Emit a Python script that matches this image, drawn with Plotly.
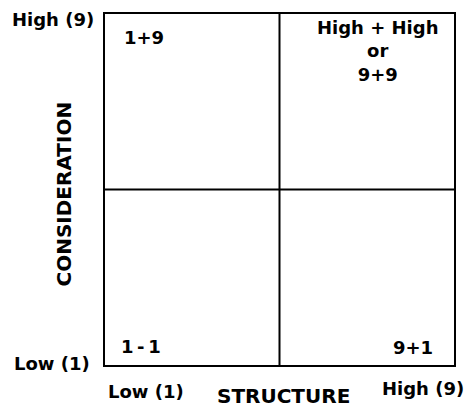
import plotly.graph_objects as go

# ---- data ----
x_range = [1, 9]
y_range = [1, 9]
midpoint = 5
x_tick_vals = [1, 9]
x_tick_text = ["Low (1)", "High (9)"]
y_tick_vals = [1, 9]
y_tick_text = ["Low (1)", "High (9)"]
x_title = "STRUCTURE"
y_title = "CONSIDERATION"
quadrant_text = ["1+9", "High + High<br>or<br>9+9", "1\u2009-\u20091", "9+1"]
quadrant_x = [1, 9, 1, 9]
quadrant_y = [9, 9, 1, 1]

FONT = "DejaVu Sans"
font_lbl = dict(family=FONT, size=18, color="black", weight="bold")
font_ttl = dict(family=FONT, size=20, color="black", weight="bold")

fig = go.Figure()
fig.add_trace(go.Scatter(x=x_range, y=y_range, mode="markers",
                         marker=dict(opacity=0), hoverinfo="skip", showlegend=False))

ann = []
# quadrant labels
q_style = [
    dict(xanchor="left", yanchor="middle", xshift=18, yshift=-23),
    dict(xanchor="center", yanchor="middle", xshift=-77, yshift=-37),
    dict(xanchor="left", yanchor="middle", xshift=15, yshift=19),
    dict(xanchor="right", yanchor="middle", xshift=-20, yshift=18),
]
for t, qx, qy, st in zip(quadrant_text, quadrant_x, quadrant_y, q_style):
    ann.append(dict(x=qx, y=qy, xref="x", yref="y", text=t, showarrow=False,
                    borderpad=0, font=font_lbl, **st))

# y tick labels
y_shift = {1: (-13, 2), 9: (-9, -5)}
for v, t in zip(y_tick_vals, y_tick_text):
    xs, ys = y_shift[v]
    ann.append(dict(x=0, y=v, xref="paper", yref="y", text=t, showarrow=False,
                    xanchor="right", yanchor="middle", xshift=xs, yshift=ys, font=font_lbl))

# x tick labels
x_style = {1: ("left", 1, -26), 9: ("right", 12, -23)}
for v, t in zip(x_tick_vals, x_tick_text):
    xa, xs, ys = x_style[v]
    ann.append(dict(x=v, y=0, xref="x", yref="paper", text=t, showarrow=False,
                    xanchor=xa, yanchor="middle", xshift=xs, yshift=ys, font=font_lbl))

# axis titles
ann.append(dict(x=midpoint, y=0, xref="x", yref="paper", text=x_title, showarrow=False,
                xanchor="center", yanchor="middle", xshift=4, yshift=-31, borderpad=0,
                font=font_ttl))
ann.append(dict(x=0, y=midpoint, xref="paper", yref="y", text=y_title, showarrow=False,
                textangle=-90, xanchor="center", yanchor="middle", xshift=-42, yshift=-5,
                font=font_ttl))

shapes = [
    dict(type="line", xref="x", yref="y", x0=midpoint, x1=midpoint, y0=y_range[0], y1=y_range[1],
         line=dict(color="black", width=2)),
    dict(type="line", xref="x", yref="y", x0=x_range[0], x1=x_range[1], y0=midpoint, y1=midpoint,
         line=dict(color="black", width=2)),
]

axis_common = dict(showgrid=False, zeroline=False, showticklabels=False, ticks="",
                   showline=True, mirror=True, linecolor="black", linewidth=2, fixedrange=True)

fig.update_layout(
    width=467, height=409,
    margin=dict(l=105, r=13, t=14, b=44),
    paper_bgcolor="white", plot_bgcolor="white",
    xaxis=dict(range=x_range, **axis_common),
    yaxis=dict(range=y_range, **axis_common),
    annotations=ann, shapes=shapes,
    showlegend=False,
)

fig.write_html("out.html", config={"displayModeBar": False},
               post_script="document.body.style.margin='0';document.body.style.overflow='hidden';")
